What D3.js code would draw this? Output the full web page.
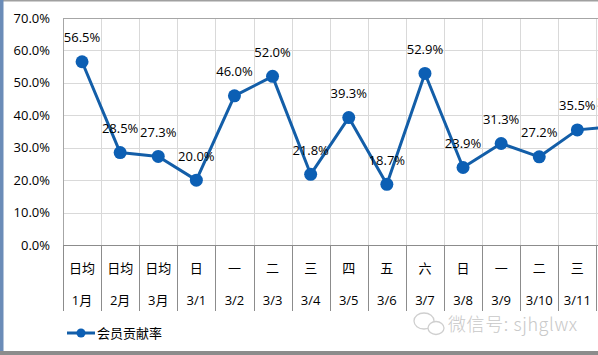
<!DOCTYPE html>
<html><head><meta charset="utf-8">
<script src="https://cdn.jsdelivr.net/npm/d3@7"></script>
<style>
html,body{margin:0;padding:0;background:#fff;overflow:hidden;}
text{font-family:"Segoe UI","Open Sans","Noto Sans CJK SC",sans-serif;}
</style></head>
<body>
<script>
const weekdays = ["日均","日均","日均","日","一","二","三","四","五","六","日","一","二","三","四"];
const dates = ["1月","2月","3月","3/1","3/2","3/3","3/4","3/5","3/6","3/7","3/8","3/9","3/10","3/11","3/12"];
const values = [56.5,28.5,27.3,20.0,46.0,52.0,21.8,39.3,18.7,52.9,23.9,31.3,27.2,35.5,36.6];
const yTicks = [0,10,20,30,40,50,60,70];
const seriesName = "会员贡献率";

(function(){
const W = 598, H = 355;
const svg = d3.select("body").append("svg").attr("width", W).attr("height", H);

const pLeft = 63, pTop = 18, pBottom = 245, colW = 38.1;
const x = d3.scaleBand().domain(d3.range(values.length)).range([pLeft, pLeft + colW * values.length]).padding(0);
const y = d3.scaleLinear().domain([0, 70]).range([pBottom, pTop]);

// borders
svg.append("rect").attr("x",0).attr("y",0).attr("width",W).attr("height",1.5).attr("fill","#a0a0a0");
svg.append("rect").attr("x",0).attr("y",351).attr("width",W).attr("height",4).attr("fill","#8c8c8c");
svg.append("rect").attr("x",0).attr("y",0).attr("width",3.5).attr("height",351).attr("fill","#6b8cb8");

// horizontal gridlines
svg.append("g").selectAll("line").data(yTicks.filter(d=>d>0)).join("line")
  .attr("x1", pLeft).attr("x2", W + 60)
  .attr("y1", d => Math.round(y(d)) + 0.5).attr("y2", d => Math.round(y(d)) + 0.5)
  .attr("stroke", "#d9d9d9").attr("stroke-width", 1);

// vertical gridlines
const bounds = d3.range(values.length + 1).map(i => pLeft + colW * i);
svg.append("g").selectAll("line").data(bounds.slice(1)).join("line")
  .attr("x1", d => Math.round(d) + 0.5).attr("x2", d => Math.round(d) + 0.5)
  .attr("y1", pTop).attr("y2", pBottom)
  .attr("stroke", "#d9d9d9").attr("stroke-width", 1);

// plot border left + top
svg.append("line").attr("x1", pLeft+0.5).attr("x2", pLeft+0.5).attr("y1", pTop).attr("y2", pBottom).attr("stroke","#a6a6a6");
svg.append("line").attr("x1", pLeft).attr("x2", W+60).attr("y1", pTop+0.5).attr("y2", pTop+0.5).attr("stroke","#a6a6a6");

// category axis
svg.append("line").attr("x1", pLeft).attr("x2", W+60).attr("y1", pBottom+0.5).attr("y2", pBottom+0.5).attr("stroke","#8c8c8c");
svg.append("g").selectAll("line").data(bounds).join("line")
  .attr("x1", d => Math.round(d) + 0.5).attr("x2", d => Math.round(d) + 0.5)
  .attr("y1", pBottom).attr("y2", 311)
  .attr("stroke", "#8c8c8c").attr("stroke-width", 1);

const cx = i => x(i) + x.bandwidth()/2;
svg.append("g").selectAll("text").data(weekdays).join("text")
  .attr("x", (d,i) => cx(i)).attr("y", 268).attr("dy","0.35em")
  .attr("text-anchor","middle").attr("font-size", 13).attr("fill","#000")
  .style("font-family", "'Noto Sans CJK SC',sans-serif")
  .text(d => d);
svg.append("g").selectAll("text").data(dates).join("text")
  .attr("x", (d,i) => cx(i)).attr("y", 300).attr("dy","0.35em")
  .attr("text-anchor","middle").attr("font-size", 13).attr("fill","#000")
  .text(d => d);

// y axis labels
svg.append("g").selectAll("text").data(yTicks).join("text")
  .attr("x", 50).attr("y", d => y(d)).attr("dy","0.35em")
  .attr("text-anchor","end").attr("font-size", 13).attr("fill","#000")
  .text(d => d.toFixed(1) + "%");

// line
const line = d3.line().x((d,i) => cx(i)).y(d => y(d));
svg.append("path").datum(values).attr("d", line)
  .attr("fill","none").attr("stroke","#135ea8").attr("stroke-width",3).attr("stroke-linejoin","round");
svg.append("g").selectAll("circle").data(values).join("circle")
  .attr("cx", (d,i) => cx(i)).attr("cy", d => y(d)).attr("r", 6.5)
  .attr("fill","#0c5fb4");

// data labels
svg.append("g").selectAll("text").data(values).join("text")
  .attr("x", (d,i) => cx(i)).attr("y", d => y(d) - 24).attr("dy","0.35em")
  .attr("text-anchor","middle").attr("font-size", 13).attr("fill","#000")
  .text(d => d.toFixed(1) + "%");

// legend
svg.append("line").attr("x1",67).attr("x2",95).attr("y1",333).attr("y2",333).attr("stroke","#135ea8").attr("stroke-width",3);
svg.append("circle").attr("cx",81).attr("cy",333).attr("r",4.5).attr("fill","#0c5fb4");
svg.append("text").attr("x",97).attr("y",333).attr("dy","0.35em").attr("font-size",13)
  .style("font-family","'Noto Sans CJK SC',sans-serif").text(seriesName);

// watermark
const wm = svg.append("g").attr("fill","none").attr("stroke","#cfcfcf").attr("stroke-width",1.3);
wm.append("ellipse").attr("cx",424).attr("cy",321).attr("rx",10).attr("ry",8);
wm.append("ellipse").attr("cx",436).attr("cy",328).attr("rx",8).attr("ry",6.5).attr("fill","#fff");
svg.append("text").attr("x",448).attr("y",325).attr("dy","0.35em").attr("font-size",18)
  .attr("letter-spacing",0.6).attr("font-weight",300)
  .attr("fill","#c8c8c8").style("font-family","'Noto Sans CJK SC',sans-serif").text("微信号: sjhglwx");
})();
</script>
</body></html>
